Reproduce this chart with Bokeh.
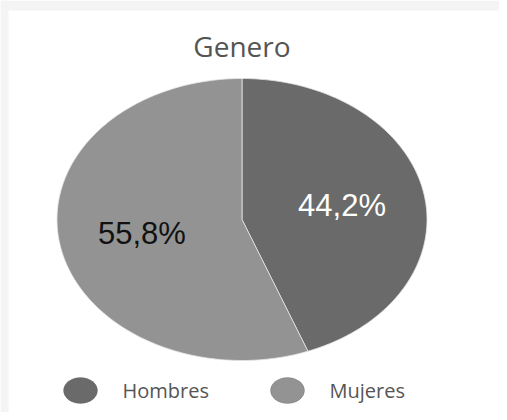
import numpy as np
from bokeh.plotting import figure
from bokeh.models import Range1d
from bokeh.core.properties import value
from bokeh.embed import file_html
from bokeh.resources import INLINE

title = "Genero"
categories = ["Hombres", "Mujeres"]
shares = [44.2, 55.8]
labels = ["44,2%", "55,8%"]
colors = ["#6a6a6a", "#939393"]
label_colors = ["#ffffff", "#111111"]

W, H = 499, 412
p = figure(width=W, height=H, output_backend="svg", toolbar_location=None,
           x_range=Range1d(0, W), y_range=Range1d(H, 0),
           min_border=0, min_border_left=0, min_border_right=0,
           min_border_top=0, min_border_bottom=0)
p.axis.visible = False
p.grid.visible = False
p.outline_line_color = None
p.background_fill_color = "#ffffff"
p.border_fill_color = "#ffffff"

# light grey frame strips (top and left) as in the reference
p.quad(left=[0, 0], right=[W, 8], top=[0, 0], bottom=[10, H],
       fill_color="#f4f4f4", line_color=None)

cx, cy, rx, ry = 241.5, 219.0, 185.0, 141.0

fr = np.array(shares) / sum(shares)
ends = np.cumsum(fr) * 2 * np.pi
starts = ends - fr * 2 * np.pi
xs, ys = [], []
for a0, a1 in zip(starts, ends):
    t = np.linspace(a0, a1, 200)
    xs.append([cx] + list(cx + rx * np.sin(t)) + [cx])
    ys.append([cy] + list(cy - ry * np.cos(t)) + [cy])
p.patches(xs=xs, ys=ys, fill_color=colors, line_color="#e6e6e6", line_width=0.8)

mid = (starts + ends) / 2
lr = 0.55
lx = cx + rx * lr * np.sin(mid)
ly = cy - ry * lr * np.cos(mid)
p.text(x=list(lx), y=list(ly), text=labels, text_color=label_colors,
       text_font=value("Liberation Sans"), text_font_size="31px",
       text_align="center", text_baseline="middle")

# title
p.text(x=[cx], y=[45], text=[title], text_color="#555555",
       text_font=value("Open Sans"), text_font_size="28px",
       text_align="center", text_baseline="middle")

# legend
leg_x = [80, 287]
leg_y = 390
p.ellipse(x=leg_x, y=[leg_y] * 2, width=34, height=26, width_units="screen",
          height_units="screen", fill_color=colors, line_color="#5a5a5a", line_alpha=0.3)
p.text(x=[x + 42 for x in leg_x], y=[leg_y] * 2, text=categories, text_color="#555555",
       text_font=value("Open Sans"), text_font_size="20px",
       text_align="left", text_baseline="middle")

open("out.html", "w").write(file_html(p, INLINE))
